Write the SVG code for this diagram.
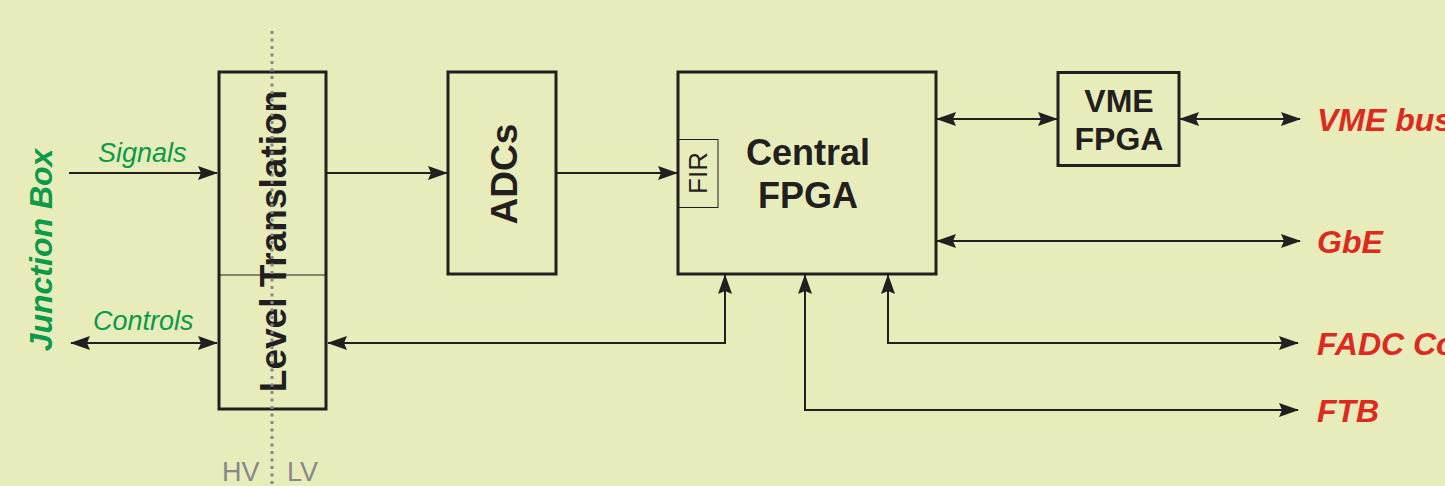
<svg xmlns="http://www.w3.org/2000/svg" width="1445" height="486" viewBox="0 0 1445 486">
  <defs>
    <marker id="ah" viewBox="0 0 20 14" refX="19" refY="7" markerWidth="20" markerHeight="14" markerUnits="userSpaceOnUse" orient="auto-start-reverse">
      <path d="M0,0 L20,7 L0,14 L3,7 Z" fill="#231f20"/>
    </marker>
  </defs>
  <style>
    .box { fill: none; stroke: #231f20; stroke-width: 3; }
    .thin { fill: none; stroke: #231f20; stroke-width: 1; }
    .conn { fill: none; stroke: #231f20; stroke-width: 2; }
    .lbl { font-family: "Liberation Sans", Arial, sans-serif; font-weight: bold; fill: #231f20; text-anchor: middle; }
    .green { font-family: "Liberation Sans", Arial, sans-serif; font-style: italic; fill: #0a9a48; }
    .red { font-family: "Liberation Sans", Arial, sans-serif; font-style: italic; font-weight: bold; fill: #dd2a1f; font-size: 32px; }
    .grey { font-family: "Liberation Sans", Arial, sans-serif; fill: #87888a; font-size: 27px; }
  </style>
  <rect x="0" y="0" width="1445" height="486" fill="#e8ecbb"/>

  <g id="junction-box">
    <text class="green" font-weight="bold" font-size="32" text-anchor="middle" transform="translate(52,250) rotate(-90)">Junction Box</text>
  </g>

  <g id="level-translation">
    <rect class="box" x="219" y="72" width="107" height="337"/>
    <line class="thin" x1="219" y1="275" x2="326" y2="275" stroke="#555"/>
    <text class="lbl" font-size="37" transform="translate(286,241) rotate(-90)">Level Translation</text>
  </g>

  <g id="adcs">
    <rect class="box" x="448" y="72" width="108" height="202"/>
    <text class="lbl" font-size="37" transform="translate(517,174) rotate(-90)">ADCs</text>
  </g>

  <g id="central-fpga">
    <rect class="box" x="678" y="72" width="258" height="202"/>
    <rect class="thin" x="678" y="139.5" width="40" height="68"/>
    <text font-family="Liberation Sans, Arial, sans-serif" font-size="26" fill="#231f20" text-anchor="middle" transform="translate(707,173) rotate(-90)">FIR</text>
    <text class="lbl" font-size="36" x="808" y="165">Central</text>
    <text class="lbl" font-size="36" x="808" y="208">FPGA</text>
  </g>

  <g id="vme-fpga">
    <rect class="box" x="1058" y="72.5" width="121" height="93"/>
    <text class="lbl" font-size="32" x="1119" y="112">VME</text>
    <text class="lbl" font-size="32" x="1119" y="150">FPGA</text>
  </g>

  <g id="hv-lv-boundary">
    <line x1="272" y1="31" x2="272" y2="486" stroke="#87888a" stroke-width="3" stroke-dasharray="3 4.5"/>
    <text class="grey" x="222" y="481">HV</text>
    <text class="grey" x="287" y="481">LV</text>
  </g>

  <g id="connectors">
    <path class="conn" d="M69,173 H217" marker-end="url(#ah)"/>
    <path class="conn" d="M71,343 H217" marker-start="url(#ah)" marker-end="url(#ah)"/>
    <path class="conn" d="M327,173 H447" marker-end="url(#ah)"/>
    <path class="conn" d="M557,173 H677" marker-end="url(#ah)"/>
    <path class="conn" d="M328,343 H725 V275" marker-start="url(#ah)" marker-end="url(#ah)"/>
    <path class="conn" d="M937,119 H1057" marker-start="url(#ah)" marker-end="url(#ah)"/>
    <path class="conn" d="M1180,119 H1300" marker-start="url(#ah)" marker-end="url(#ah)"/>
    <path class="conn" d="M937,241 H1300" marker-start="url(#ah)" marker-end="url(#ah)"/>
    <path class="conn" d="M888,275 V343 H1298" marker-start="url(#ah)" marker-end="url(#ah)"/>
    <path class="conn" d="M805,275 V410 H1298" marker-start="url(#ah)" marker-end="url(#ah)"/>
  </g>

  <g id="labels">
    <text class="green" font-size="27" x="98" y="162">Signals</text>
    <text class="green" font-size="27" x="93" y="330">Controls</text>
    <text class="red" x="1317" y="131">VME bus</text>
    <text class="red" x="1317" y="253">GbE</text>
    <text class="red" x="1317" y="355">FADC Co</text>
    <text class="red" x="1317" y="422">FTB</text>
  </g>
</svg>
